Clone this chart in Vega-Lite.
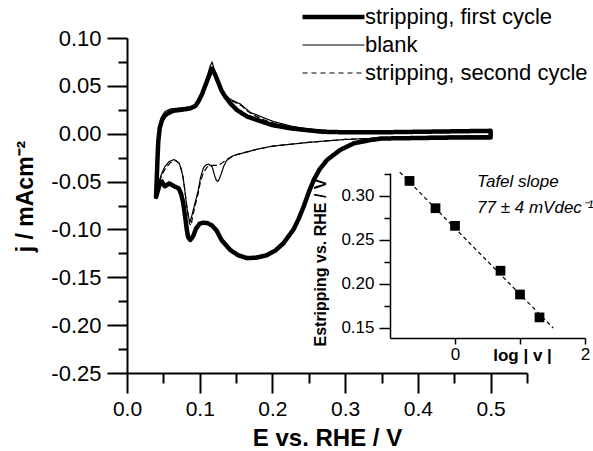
{
"$schema":"https://vega.github.io/schema/vega-lite/v6.json",
"width":400,"height":335,
"autosize":"none",
"padding":{"left":127,"top":38,"right":66,"bottom":78},
"config":{"view":{"stroke":null},"font":"Liberation Sans","axis":{"grid":false,"domainColor":"black","tickColor":"black","labelColor":"black","titleColor":"black"},"legend":{"labelColor":"black"}},
"datasets":{
"cv":[
{"s":"stripping, first cycle","o":1,"E":0.040,"j":-0.066},{"s":"stripping, first cycle","o":2,"E":0.041,"j":-0.045},{"s":"stripping, first cycle","o":3,"E":0.042,"j":-0.025},{"s":"stripping, first cycle","o":4,"E":0.043,"j":-0.008},{"s":"stripping, first cycle","o":5,"E":0.045,"j":0.006},{"s":"stripping, first cycle","o":6,"E":0.048,"j":0.014},{"s":"stripping, first cycle","o":7,"E":0.052,"j":0.019},{"s":"stripping, first cycle","o":8,"E":0.058,"j":0.022},{"s":"stripping, first cycle","o":9,"E":0.064,"j":0.024},{"s":"stripping, first cycle","o":10,"E":0.075,"j":0.025},{"s":"stripping, first cycle","o":11,"E":0.087,"j":0.0265},{"s":"stripping, first cycle","o":12,"E":0.094,"j":0.029},{"s":"stripping, first cycle","o":13,"E":0.098,"j":0.0335},{"s":"stripping, first cycle","o":14,"E":0.103,"j":0.041},{"s":"stripping, first cycle","o":15,"E":0.107,"j":0.049},{"s":"stripping, first cycle","o":16,"E":0.112,"j":0.059},{"s":"stripping, first cycle","o":17,"E":0.117,"j":0.068},{"s":"stripping, first cycle","o":18,"E":0.121,"j":0.062},{"s":"stripping, first cycle","o":19,"E":0.126,"j":0.0527},{"s":"stripping, first cycle","o":20,"E":0.130,"j":0.045},{"s":"stripping, first cycle","o":21,"E":0.135,"j":0.0387},{"s":"stripping, first cycle","o":22,"E":0.143,"j":0.031},{"s":"stripping, first cycle","o":23,"E":0.151,"j":0.0248},{"s":"stripping, first cycle","o":24,"E":0.165,"j":0.018},{"s":"stripping, first cycle","o":25,"E":0.179,"j":0.0143},{"s":"stripping, first cycle","o":26,"E":0.200,"j":0.009},{"s":"stripping, first cycle","o":27,"E":0.225,"j":0.0056},{"s":"stripping, first cycle","o":28,"E":0.250,"j":0.0035},{"s":"stripping, first cycle","o":29,"E":0.270,"j":0.002},{"s":"stripping, first cycle","o":30,"E":0.300,"j":0.0015},{"s":"stripping, first cycle","o":31,"E":0.350,"j":0.0015},{"s":"stripping, first cycle","o":32,"E":0.400,"j":0.002},{"s":"stripping, first cycle","o":33,"E":0.450,"j":0.0025},{"s":"stripping, first cycle","o":34,"E":0.500,"j":0.003},
{"s":"stripping, first cycle","o":35,"E":0.500,"j":-0.004},{"s":"stripping, first cycle","o":36,"E":0.450,"j":-0.004},{"s":"stripping, first cycle","o":37,"E":0.400,"j":-0.0045},{"s":"stripping, first cycle","o":38,"E":0.350,"j":-0.005},{"s":"stripping, first cycle","o":39,"E":0.335,"j":-0.0066},{"s":"stripping, first cycle","o":40,"E":0.312,"j":-0.010},{"s":"stripping, first cycle","o":41,"E":0.293,"j":-0.017},{"s":"stripping, first cycle","o":42,"E":0.275,"j":-0.0275},{"s":"stripping, first cycle","o":43,"E":0.265,"j":-0.037},{"s":"stripping, first cycle","o":44,"E":0.257,"j":-0.048},{"s":"stripping, first cycle","o":45,"E":0.250,"j":-0.061},{"s":"stripping, first cycle","o":46,"E":0.243,"j":-0.076},{"s":"stripping, first cycle","o":47,"E":0.236,"j":-0.089},{"s":"stripping, first cycle","o":48,"E":0.229,"j":-0.100},{"s":"stripping, first cycle","o":49,"E":0.215,"j":-0.1145},{"s":"stripping, first cycle","o":50,"E":0.204,"j":-0.122},{"s":"stripping, first cycle","o":51,"E":0.192,"j":-0.127},{"s":"stripping, first cycle","o":52,"E":0.178,"j":-0.1295},{"s":"stripping, first cycle","o":53,"E":0.165,"j":-0.130},{"s":"stripping, first cycle","o":54,"E":0.153,"j":-0.127},{"s":"stripping, first cycle","o":55,"E":0.142,"j":-0.1215},{"s":"stripping, first cycle","o":56,"E":0.130,"j":-0.111},{"s":"stripping, first cycle","o":57,"E":0.123,"j":-0.101},{"s":"stripping, first cycle","o":58,"E":0.117,"j":-0.096},{"s":"stripping, first cycle","o":59,"E":0.111,"j":-0.0935},{"s":"stripping, first cycle","o":60,"E":0.105,"j":-0.093},{"s":"stripping, first cycle","o":61,"E":0.100,"j":-0.094},{"s":"stripping, first cycle","o":62,"E":0.095,"j":-0.099},{"s":"stripping, first cycle","o":63,"E":0.091,"j":-0.107},{"s":"stripping, first cycle","o":64,"E":0.087,"j":-0.111},{"s":"stripping, first cycle","o":65,"E":0.084,"j":-0.108},{"s":"stripping, first cycle","o":66,"E":0.082,"j":-0.099},{"s":"stripping, first cycle","o":67,"E":0.080,"j":-0.087},{"s":"stripping, first cycle","o":68,"E":0.077,"j":-0.071},{"s":"stripping, first cycle","o":69,"E":0.074,"j":-0.062},{"s":"stripping, first cycle","o":70,"E":0.071,"j":-0.057},{"s":"stripping, first cycle","o":71,"E":0.065,"j":-0.055},{"s":"stripping, first cycle","o":72,"E":0.058,"j":-0.052},{"s":"stripping, first cycle","o":73,"E":0.052,"j":-0.055},{"s":"stripping, first cycle","o":74,"E":0.048,"j":-0.050},{"s":"stripping, first cycle","o":75,"E":0.045,"j":-0.053},{"s":"stripping, first cycle","o":76,"E":0.043,"j":-0.058},{"s":"stripping, first cycle","o":77,"E":0.040,"j":-0.066},
{"s":"blank","o":1,"E":0.040,"j":-0.066},{"s":"blank","o":2,"E":0.041,"j":-0.040},{"s":"blank","o":3,"E":0.042,"j":-0.015},{"s":"blank","o":4,"E":0.044,"j":0.005},{"s":"blank","o":5,"E":0.047,"j":0.017},{"s":"blank","o":6,"E":0.052,"j":0.023},{"s":"blank","o":7,"E":0.060,"j":0.026},{"s":"blank","o":8,"E":0.075,"j":0.027},{"s":"blank","o":9,"E":0.087,"j":0.028},{"s":"blank","o":10,"E":0.095,"j":0.031},{"s":"blank","o":11,"E":0.100,"j":0.037},{"s":"blank","o":12,"E":0.105,"j":0.047},{"s":"blank","o":13,"E":0.110,"j":0.059},{"s":"blank","o":14,"E":0.114,"j":0.070},{"s":"blank","o":15,"E":0.117,"j":0.075},{"s":"blank","o":16,"E":0.120,"j":0.067},{"s":"blank","o":17,"E":0.125,"j":0.056},{"s":"blank","o":18,"E":0.130,"j":0.047},{"s":"blank","o":19,"E":0.135,"j":0.041},{"s":"blank","o":20,"E":0.142,"j":0.036},{"s":"blank","o":21,"E":0.150,"j":0.033},{"s":"blank","o":22,"E":0.156,"j":0.031},{"s":"blank","o":23,"E":0.162,"j":0.027},{"s":"blank","o":24,"E":0.170,"j":0.022},{"s":"blank","o":25,"E":0.179,"j":0.0195},{"s":"blank","o":26,"E":0.190,"j":0.016},{"s":"blank","o":27,"E":0.202,"j":0.0126},{"s":"blank","o":28,"E":0.225,"j":0.008},{"s":"blank","o":29,"E":0.248,"j":0.005},{"s":"blank","o":30,"E":0.280,"j":0.003},{"s":"blank","o":31,"E":0.350,"j":0.0025},{"s":"blank","o":32,"E":0.420,"j":0.003},{"s":"blank","o":33,"E":0.500,"j":0.004},
{"s":"blank","o":34,"E":0.500,"j":-0.002},{"s":"blank","o":35,"E":0.400,"j":-0.003},{"s":"blank","o":36,"E":0.350,"j":-0.0045},{"s":"blank","o":37,"E":0.300,"j":-0.006},{"s":"blank","o":38,"E":0.250,"j":-0.009},{"s":"blank","o":39,"E":0.200,"j":-0.013},{"s":"blank","o":40,"E":0.180,"j":-0.016},{"s":"blank","o":41,"E":0.165,"j":-0.019},{"s":"blank","o":42,"E":0.155,"j":-0.021},{"s":"blank","o":43,"E":0.146,"j":-0.023},{"s":"blank","o":44,"E":0.137,"j":-0.028},{"s":"blank","o":45,"E":0.133,"j":-0.034},{"s":"blank","o":46,"E":0.130,"j":-0.041},{"s":"blank","o":47,"E":0.127,"j":-0.047},{"s":"blank","o":48,"E":0.125,"j":-0.050},{"s":"blank","o":49,"E":0.123,"j":-0.049},{"s":"blank","o":50,"E":0.121,"j":-0.045},{"s":"blank","o":51,"E":0.117,"j":-0.0345},{"s":"blank","o":52,"E":0.112,"j":-0.0317},{"s":"blank","o":53,"E":0.108,"j":-0.033},{"s":"blank","o":54,"E":0.105,"j":-0.036},{"s":"blank","o":55,"E":0.101,"j":-0.046},{"s":"blank","o":56,"E":0.098,"j":-0.059},{"s":"blank","o":57,"E":0.094,"j":-0.071},{"s":"blank","o":58,"E":0.091,"j":-0.080},{"s":"blank","o":59,"E":0.087,"j":-0.092},{"s":"blank","o":60,"E":0.085,"j":-0.088},{"s":"blank","o":61,"E":0.082,"j":-0.076},{"s":"blank","o":62,"E":0.080,"j":-0.062},{"s":"blank","o":63,"E":0.077,"j":-0.045},{"s":"blank","o":64,"E":0.074,"j":-0.036},{"s":"blank","o":65,"E":0.072,"j":-0.031},{"s":"blank","o":66,"E":0.065,"j":-0.027},{"s":"blank","o":67,"E":0.058,"j":-0.029},{"s":"blank","o":68,"E":0.052,"j":-0.0345},{"s":"blank","o":69,"E":0.048,"j":-0.041},{"s":"blank","o":70,"E":0.043,"j":-0.052},{"s":"blank","o":71,"E":0.040,"j":-0.066},
{"s":"stripping, second cycle","o":1,"E":0.040,"j":-0.066},{"s":"stripping, second cycle","o":2,"E":0.041,"j":-0.042},{"s":"stripping, second cycle","o":3,"E":0.042,"j":-0.018},{"s":"stripping, second cycle","o":4,"E":0.044,"j":0.003},{"s":"stripping, second cycle","o":5,"E":0.047,"j":0.015},{"s":"stripping, second cycle","o":6,"E":0.052,"j":0.021},{"s":"stripping, second cycle","o":7,"E":0.060,"j":0.024},{"s":"stripping, second cycle","o":8,"E":0.075,"j":0.026},{"s":"stripping, second cycle","o":9,"E":0.087,"j":0.027},{"s":"stripping, second cycle","o":10,"E":0.095,"j":0.030},{"s":"stripping, second cycle","o":11,"E":0.100,"j":0.036},{"s":"stripping, second cycle","o":12,"E":0.105,"j":0.046},{"s":"stripping, second cycle","o":13,"E":0.110,"j":0.058},{"s":"stripping, second cycle","o":14,"E":0.114,"j":0.066},{"s":"stripping, second cycle","o":15,"E":0.117,"j":0.069},{"s":"stripping, second cycle","o":16,"E":0.120,"j":0.064},{"s":"stripping, second cycle","o":17,"E":0.125,"j":0.054},{"s":"stripping, second cycle","o":18,"E":0.130,"j":0.046},{"s":"stripping, second cycle","o":19,"E":0.135,"j":0.040},{"s":"stripping, second cycle","o":20,"E":0.142,"j":0.035},{"s":"stripping, second cycle","o":21,"E":0.150,"j":0.032},{"s":"stripping, second cycle","o":22,"E":0.158,"j":0.029},{"s":"stripping, second cycle","o":23,"E":0.165,"j":0.024},{"s":"stripping, second cycle","o":24,"E":0.175,"j":0.019},{"s":"stripping, second cycle","o":25,"E":0.190,"j":0.014},{"s":"stripping, second cycle","o":26,"E":0.202,"j":0.011},{"s":"stripping, second cycle","o":27,"E":0.225,"j":0.007},{"s":"stripping, second cycle","o":28,"E":0.248,"j":0.0045},{"s":"stripping, second cycle","o":29,"E":0.280,"j":0.003},{"s":"stripping, second cycle","o":30,"E":0.350,"j":0.002},{"s":"stripping, second cycle","o":31,"E":0.420,"j":0.0025},{"s":"stripping, second cycle","o":32,"E":0.500,"j":0.003},
{"s":"stripping, second cycle","o":33,"E":0.500,"j":-0.0025},{"s":"stripping, second cycle","o":34,"E":0.400,"j":-0.0035},{"s":"stripping, second cycle","o":35,"E":0.350,"j":-0.0045},{"s":"stripping, second cycle","o":36,"E":0.300,"j":-0.006},{"s":"stripping, second cycle","o":37,"E":0.250,"j":-0.009},{"s":"stripping, second cycle","o":38,"E":0.200,"j":-0.013},{"s":"stripping, second cycle","o":39,"E":0.180,"j":-0.016},{"s":"stripping, second cycle","o":40,"E":0.165,"j":-0.019},{"s":"stripping, second cycle","o":41,"E":0.155,"j":-0.021},{"s":"stripping, second cycle","o":42,"E":0.146,"j":-0.023},{"s":"stripping, second cycle","o":43,"E":0.137,"j":-0.027},{"s":"stripping, second cycle","o":44,"E":0.130,"j":-0.031},{"s":"stripping, second cycle","o":45,"E":0.125,"j":-0.033},{"s":"stripping, second cycle","o":46,"E":0.120,"j":-0.033},{"s":"stripping, second cycle","o":47,"E":0.115,"j":-0.033},{"s":"stripping, second cycle","o":48,"E":0.110,"j":-0.035},{"s":"stripping, second cycle","o":49,"E":0.105,"j":-0.041},{"s":"stripping, second cycle","o":50,"E":0.101,"j":-0.050},{"s":"stripping, second cycle","o":51,"E":0.098,"j":-0.062},{"s":"stripping, second cycle","o":52,"E":0.094,"j":-0.074},{"s":"stripping, second cycle","o":53,"E":0.091,"j":-0.084},{"s":"stripping, second cycle","o":54,"E":0.088,"j":-0.096},{"s":"stripping, second cycle","o":55,"E":0.086,"j":-0.094},{"s":"stripping, second cycle","o":56,"E":0.084,"j":-0.085},{"s":"stripping, second cycle","o":57,"E":0.081,"j":-0.068},{"s":"stripping, second cycle","o":58,"E":0.078,"j":-0.050},{"s":"stripping, second cycle","o":59,"E":0.075,"j":-0.038},{"s":"stripping, second cycle","o":60,"E":0.072,"j":-0.031},{"s":"stripping, second cycle","o":61,"E":0.067,"j":-0.028},{"s":"stripping, second cycle","o":62,"E":0.060,"j":-0.030},{"s":"stripping, second cycle","o":63,"E":0.053,"j":-0.036},{"s":"stripping, second cycle","o":64,"E":0.048,"j":-0.043},{"s":"stripping, second cycle","o":65,"E":0.043,"j":-0.054},{"s":"stripping, second cycle","o":66,"E":0.040,"j":-0.066}
],
"tafel":[{"lv":-0.70,"Es":0.317},{"lv":-0.30,"Es":0.286},{"lv":0.0,"Es":0.266},{"lv":0.70,"Es":0.215},{"lv":1.0,"Es":0.188},{"lv":1.30,"Es":0.162}],
"fit":[{"lv":-0.85,"Es":0.327},{"lv":1.51,"Es":0.150}],
"notes":[{"lv":0.34,"Es":0.316,"t":"Tafel slope"},{"lv":0.34,"Es":0.286,"t":"77 ± 4 mVdec⁻¹"}]
},
"layer":[
{
"data":{"name":"cv"},
"mark":{"type":"line","color":"black","strokeJoin":"round","strokeCap":"round"},
"encoding":{
"x":{"field":"E","type":"quantitative","scale":{"domain":[0,0.55],"nice":false,"zero":false},
"axis":{"orient":"bottom","values":[0,0.05,0.1,0.15,0.2,0.25,0.3,0.35,0.4,0.45,0.5,0.55],"labelExpr":"abs(datum.value*10-round(datum.value*10))<0.01 ? format(datum.value,'.1f') : ''","tickSize":{"condition":{"test":"abs(datum.value*10-round(datum.value*10))<0.01","value":20},"value":10},"tickWidth":2,"domainWidth":2,"labelFontSize":21,"labelPadding":5,"labelFlush":false,"labelOverlap":false,"title":"E vs. RHE / V","titleFontSize":24,"titleFontWeight":"bold","titleY":72,"titleBaseline":"alphabetic"}},
"y":{"field":"j","type":"quantitative","scale":{"domain":[-0.25,0.1],"nice":false,"zero":false},
"axis":{"orient":"left","values":[-0.25,-0.225,-0.2,-0.175,-0.15,-0.125,-0.1,-0.075,-0.05,-0.025,0,0.025,0.05,0.075,0.1],"labelExpr":"abs(datum.value*20-round(datum.value*20))<0.01 ? replace(format(datum.value,'.2f'),'\u2212','-') : ''","tickSize":{"condition":{"test":"abs(datum.value*20-round(datum.value*20))<0.01","value":20},"value":9},"tickWidth":2,"domainWidth":2,"labelFontSize":22,"labelPadding":6,"labelFlush":false,"labelOverlap":false,"title":"j / mAcm⁻²","titleFontSize":23,"titleFontWeight":"bold","titleAngle":-90,"titleX":-102,"titleY":158,"titleAlign":"center","titleBaseline":"middle"}},
"order":{"field":"o","type":"quantitative"},
"strokeWidth":{"field":"s","type":"nominal","scale":{"type":"ordinal","domain":["stripping, first cycle","blank","stripping, second cycle"],"range":[4.5,1.2,1.2]},
"legend":{"title":null,"orient":"none","legendX":173,"legendY":-35,"symbolType":"stroke","symbolSize":3844,"clipHeight":28,"rowPadding":0,"labelFontSize":22,"labelOffset":-2,"labelLimit":400,"symbolStrokeColor":"black"}},
"strokeDash":{"field":"s","type":"nominal","scale":{"domain":["stripping, first cycle","blank","stripping, second cycle"],"range":[[1,0],[1,0],[5,4]]},
"legend":{"title":null,"orient":"none","legendX":173,"legendY":-35,"symbolType":"stroke","symbolSize":3844,"clipHeight":28,"rowPadding":0,"labelFontSize":22,"labelOffset":-2,"labelLimit":400,"symbolStrokeColor":"black"}}
}
},
{
"encoding":{
"x":{"field":"lv","type":"quantitative","scale":{"domain":[-1,2],"range":[263,458],"nice":false,"zero":false},
"axis":{"orient":"bottom","offset":-35,"values":[0,1,2],"labelExpr":"datum.value == 1 ? '' : datum.label","tickSize":6,"tickWidth":1.5,"domainWidth":1.5,"labelFontSize":17,"labelPadding":2,"labelFlush":false,"labelOverlap":false,"title":"log | v |","titleFontSize":17,"titleFontWeight":"bold","titleX":395,"titleY":17,"titleAlign":"center","titleBaseline":"middle"}},
"y":{"field":"Es","type":"quantitative","scale":{"domain":[0.1386,0.326],"range":[300,135],"nice":false,"zero":false},
"axis":{"orient":"left","offset":-263,"values":[0.15,0.175,0.2,0.225,0.25,0.275,0.3,0.325],"labelExpr":"abs(datum.value*20-round(datum.value*20))<0.01 ? format(datum.value,'.2f') : ''","tickSize":{"condition":{"test":"abs(datum.value*20-round(datum.value*20))<0.01","value":11},"value":6},"tickWidth":1.5,"domainWidth":1.5,"labelFontSize":17,"labelPadding":5,"labelFlush":false,"labelOverlap":false,"title":"Estripping vs. RHE / V","titleFontSize":16,"titleFontWeight":"bold","titleAngle":-90,"titleX":-70,"titleY":224,"titleAlign":"center","titleBaseline":"middle"}}
},
"layer":[
{"data":{"name":"fit"},"mark":{"type":"line","color":"black","strokeDash":[4,3],"strokeWidth":1.2},"encoding":{}},
{"data":{"name":"tafel"},"mark":{"type":"square","size":95,"color":"black","filled":true,"opacity":1},"encoding":{}},
{"data":{"name":"notes"},"mark":{"type":"text","align":"left","baseline":"middle","fontStyle":"italic","fontSize":17,"color":"black"},"encoding":{"text":{"field":"t","type":"nominal"}}}
]
}
],
"resolve":{"scale":{"x":"independent","y":"independent"},"axis":{"x":"independent","y":"independent"}}
}
